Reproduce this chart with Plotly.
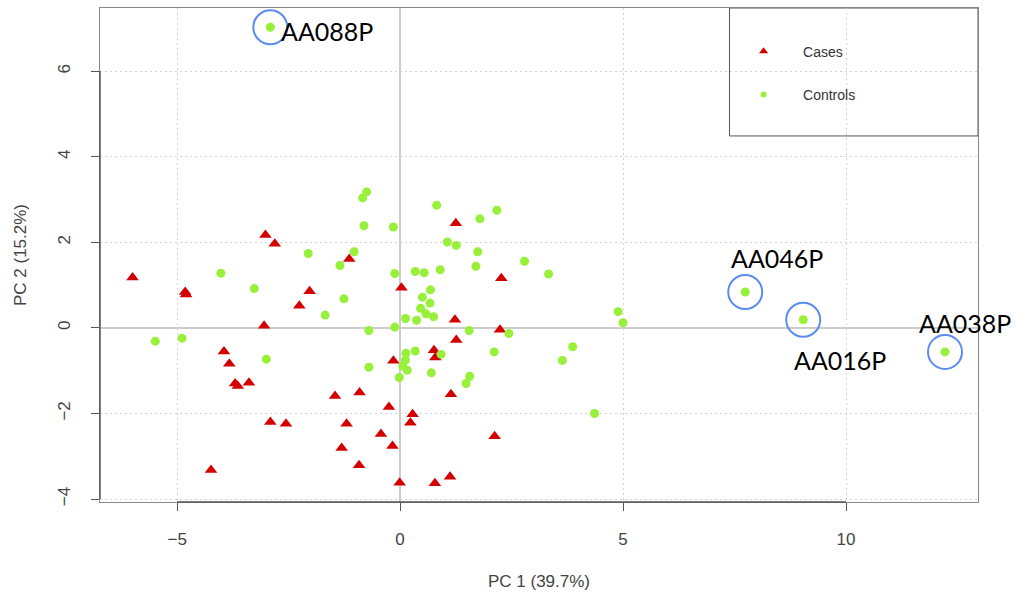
import plotly.graph_objects as go

# PCA scores, PC1 / PC2
cases_pc1 = [-6.0, -4.82, -4.80, -3.95, -3.83, -3.70, -3.64, -3.39, -4.24, -3.02,
             -2.81, -1.14, -2.03, 0.03, -2.26, -3.05, -0.15, -1.46, -0.91, -0.25,
             -2.91, -2.56, -1.20, -0.43, -0.17, -1.31, -0.92, -0.01, 1.25, 2.27,
             1.23, 2.24, 1.26, 0.76, 0.79, 1.14, 0.28, 0.23, 2.12, 0.78, 1.12]
cases_pc2 = [1.18, 0.84, 0.78, -0.55, -0.84, -1.30, -1.36, -1.28, -3.32, 2.17,
             1.97, 1.61, 0.86, 0.94, 0.52, 0.05, -0.77, -1.59, -1.51, -1.85,
             -2.20, -2.24, -2.24, -2.48, -2.76, -2.81, -3.21, -3.62, 2.45, 1.16,
             0.19, -0.04, -0.28, -0.52, -0.69, -1.55, -2.02, -2.22, -2.53, -3.63, -3.48]

controls_pc1 = [-4.02, -3.27, -5.49, -4.89, -0.75, -0.84, -0.81, -0.15, -2.06, -1.03,
                -1.35, -0.12, -1.26, -1.68, 0.12, -0.70, -0.12, -3.00, -0.70, -0.02,
                0.82, 2.17, 1.79, 1.06, 1.26, 1.74, 2.79, 1.70, 3.33, 0.34,
                0.54, 0.90, 0.68, 0.50, 0.67, 0.46, 0.58, 0.75, 0.37, 1.55,
                2.44, 2.11, 0.92, 0.34, 0.13, 0.12, 0.06, 0.16, 0.70, 1.56,
                1.48, 4.89, 5.00, 3.87, 3.64, 4.36, 7.74, 9.04, 12.22, -2.91]
controls_pc2 = [1.28, 0.92, -0.31, -0.24, 3.18, 3.04, 2.39, 2.36, 1.74, 1.78,
                1.46, 1.27, 0.68, 0.30, 0.22, -0.06, 0.02, -0.73, -0.92, -1.16,
                2.87, 2.75, 2.55, 2.01, 1.93, 1.78, 1.56, 1.44, 1.26, 1.32,
                1.29, 1.36, 0.89, 0.72, 0.58, 0.46, 0.33, 0.26, 0.18, -0.06,
                -0.13, -0.56, -0.62, -0.54, -0.59, -0.75, -0.89, -0.99, -1.05, -1.13,
                -1.30, 0.38, 0.12, -0.44, -0.76, -2.00, 0.84, 0.19, -0.56, 7.03]

# Outlying samples that get a ring and a name
outlier_ids = ["AA088P", "AA046P", "AA016P", "AA038P"]
outlier_pc1 = [-2.91, 7.74, 9.04, 12.22]
outlier_pc2 = [7.03, 0.84, 0.19, -0.56]
label_dx = [57, 32, 37, 20]     # label offset from the point, pixels (right)
label_dy = [-4, 34, -40, 29]    # label offset from the point, pixels (up)

RED = "#d40000"
GREEN = "#99f03a"
RING = "#5b8cf0"
NB = "\u00a0"

fig = go.Figure()

fig.add_trace(go.Scatter(
    x=cases_pc1, y=cases_pc2, mode="markers", showlegend=False,
    marker=dict(symbol="triangle-up", size=11, color=RED, line=dict(width=0)),
))
fig.add_trace(go.Scatter(
    x=controls_pc1, y=controls_pc2, mode="markers", showlegend=False,
    marker=dict(symbol="circle", size=9, color=GREEN, line=dict(width=0)),
))

# legend entries with smaller symbols
fig.add_trace(go.Scatter(
    x=[None], y=[None], mode="markers", name=NB * 5 + "Cases", legendgroup="a",
    marker=dict(symbol="triangle-up", size=8, color=RED),
))
fig.add_trace(go.Scatter(
    x=[None], y=[None], mode="markers", name=NB * 5 + "Controls", legendgroup="b",
    marker=dict(symbol="circle", size=6, color=GREEN),
))

shapes = []
annotations = []
for name, px, py, dx, dy in zip(outlier_ids, outlier_pc1, outlier_pc2, label_dx, label_dy):
    shapes.append(dict(
        type="circle", xref="x", yref="y", xsizemode="pixel", ysizemode="pixel",
        xanchor=px, yanchor=py, x0=-17, x1=17, y0=-17, y1=17,
        line=dict(color=RING, width=2), layer="above",
    ))
    annotations.append(dict(
        x=px, y=py, xref="x", yref="y", text=name, showarrow=False,
        xshift=dx, yshift=dy, font=dict(family="Lato, sans-serif", size=25, color="black"),
    ))

# axis lines spanning the tick range, R style
shapes.append(dict(type="line", xref="x", yref="paper", x0=-5, x1=10, y0=0, y1=0,
                   line=dict(color="#555555", width=1.5)))
shapes.append(dict(type="line", xref="paper", yref="y", x0=0, x1=0, y0=-4, y1=6,
                   line=dict(color="#555555", width=1.5)))
# legend frame
shapes.append(dict(type="rect", xref="paper", yref="paper", x0=0.717, x1=1.0, y0=0.741, y1=1.0,
                   line=dict(color="#555555", width=1), fillcolor="white", layer="below"))

fig.update_layout(
    width=1016, height=599,
    margin=dict(l=100, r=38, t=8, b=97),
    paper_bgcolor="white", plot_bgcolor="white",
    font=dict(family="Liberation Sans, Arial, sans-serif", size=17, color="#444444"),
    shapes=shapes, annotations=annotations,
    legend=dict(
        x=0.733, y=0.944, xanchor="left", yanchor="top",
        bgcolor="rgba(0,0,0,0)", borderwidth=0,
        font=dict(size=14, color="#333333"), tracegroupgap=22,
        itemwidth=30,
    ),
    xaxis=dict(
        range=[-6.73, 12.96], tickvals=[-5, 0, 5, 10], ticks="outside", ticklen=8,
        tickcolor="#555555", showline=True, linecolor="#888888", linewidth=1, mirror=True,
        showgrid=True, gridcolor="#d2d2d2", griddash="2px,3px", gridwidth=1,
        zeroline=True, zerolinecolor="#cccccc", zerolinewidth=2,
        title=dict(text="PC 1 (39.7%)", standoff=26, font=dict(size=17)),
        ticklabelstandoff=14,
    ),
    yaxis=dict(
        range=[-4.07, 7.48], tickvals=[-4, -2, 0, 2, 4, 6], ticks="outside", ticklen=8,
        tickcolor="#555555", showline=True, linecolor="#888888", linewidth=1, mirror=True,
        showgrid=True, gridcolor="#d2d2d2", griddash="2px,3px", gridwidth=1,
        zeroline=True, zerolinecolor="#cccccc", zerolinewidth=2, tickangle=-90,
        title=dict(text="PC 2 (15.2%)", standoff=24, font=dict(size=17)),
        ticklabelstandoff=14,
    ),
)

fig.write_html("out.html")
